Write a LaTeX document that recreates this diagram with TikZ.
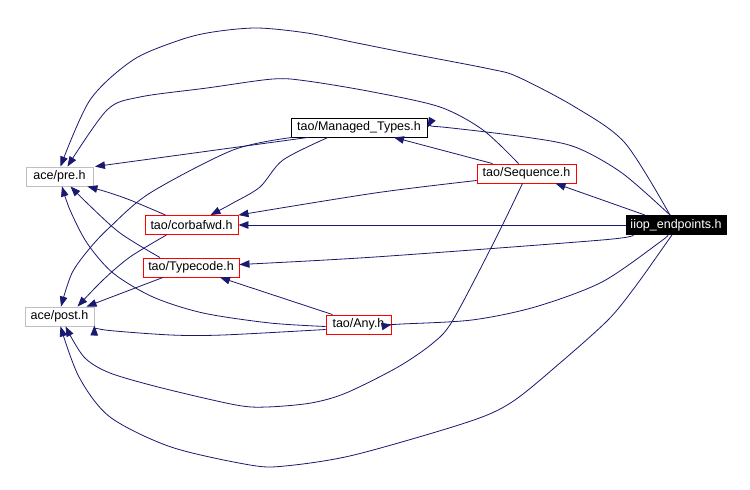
\documentclass[tikz,border=0pt]{standalone}
\usepackage{fontspec}
\setmainfont{Liberation Sans}
\usetikzlibrary{arrows.meta}
\definecolor{edgec}{HTML}{191970}
\definecolor{grayb}{HTML}{BFBFBF}
\definecolor{redb}{HTML}{FF0000}
\begin{document}
\begin{tikzpicture}[x=1bp,y=-1bp,
  every node/.style={font=\fontsize{12.5bp}{15bp}\selectfont},
  basebox/.style={draw, line width=0.9bp, minimum height=19bp, inner sep=0pt, fill=white},
  graybox/.style={basebox, draw=grayb},
  blackbox/.style={basebox, draw=black},
  redbox/.style={basebox, draw=redb},
  mainbox/.style={basebox, draw=black, fill=black, text=white},
  conn/.style={draw=edgec, line width=0.8bp, -{Triangle[length=10bp,width=7.5bp]}}
]
\useasboundingbox[fill=white] (0,0) rectangle (750,490);

\node[graybox, minimum width=67bp] (pre) at (59.5,176.5) {ace/pre.h};
\node[graybox, minimum width=69bp] (post) at (59.5,316.5) {ace/post.h};
\node[blackbox, minimum width=136bp] (man) at (359,127.5) {tao/Managed\_Types.h};
\node[redbox, minimum width=99bp] (seq) at (526.5,173.5) {tao/Sequence.h};
\node[mainbox, minimum width=100bp] (iiop) at (676,225) {iiop\_endpoints.h};
\node[redbox, minimum width=93bp] (corba) at (191.5,225) {tao/corbafwd.h};
\node[redbox, minimum width=96bp] (tc) at (191,267.5) {tao/Typecode.h};
\node[redbox, minimum width=65bp] (any) at (358.5,324.5) {tao/Any.h};

% iiop_endpoints.h
\draw[conn] plot[smooth] coordinates {([xshift=-6bp]iiop.north) (625,143) (575,107) (518,77) (490,69) (407,53) (357,43) (307,33) (257,28) (213,32) (180,40) (133,60) (90,100) ([xshift=1bp]pre.north)};
\draw[conn] plot[smooth] coordinates {([xshift=-6bp]iiop.north) (622,173) (575,147) (525,137) (442,127) (man.east)};
\draw[conn] ([xshift=-31bp]iiop.north) -- ([xshift=29bp]seq.south);
\draw[conn] (iiop.west) -- (corba.east);
\draw[conn] plot[smooth] coordinates {([xshift=-43bp]iiop.south) (602,240) (375,257) ([yshift=3bp]tc.east)};
\draw[conn] plot[smooth] coordinates {([xshift=-8bp]iiop.south) (660,242) (602,282) (535,307) (472,320) (402,324) (any.east)};
\draw[conn] plot[smooth] coordinates {([xshift=-4bp]iiop.south) (667,242) (635,287) (608,320) (560,363) (512,402) (468,422) (354,455) (285,466) (250,465) (171,447) (110,417) (79,377) ([xshift=1bp]post.south)};

% tao/Managed_Types.h
\draw[conn] ([xshift=-51bp]man.south) -- ([xshift=1.5bp]pre.north east);
\draw[conn] plot[smooth] coordinates {([xshift=-31bp]man.south) (283,160) (260,187) (233,203) ([xshift=19bp]corba.north)};
\draw[conn] plot[smooth] coordinates {([xshift=-67bp]man.south) (233,150) (150,193) (110,227) (90,248) (72,273) ([xshift=1.5bp]post.north)};

% tao/Sequence.h
\draw[conn] plot[smooth] coordinates {([xshift=-8bp]seq.north) (483,130) (440,107) (373,92) (307,81) (273,79) (207,88) (140,97) (107,110) ([xshift=8bp]pre.north)};
\draw[conn] ([xshift=-34bp]seq.north) -- ([xshift=35bp]man.south);
\draw[conn] plot[smooth] coordinates {([yshift=-7bp]seq.west) (375,193) (corba.north east)};
\draw[conn] plot[smooth] coordinates {([xshift=-4bp]seq.south) (495,240) (453,320) (433,343) (398,367) (346,393) (311,403) (267,407) (236,405) (162,388) (110,373) (84,357) ([xshift=6bp]post.south)};

% tao/corbafwd.h
\draw[conn] plot[smooth] coordinates {([xshift=-26bp]corba.north) (130,200) (107,192) ([xshift=-6bp]pre.south east)};
\draw[conn] plot[smooth] coordinates {([xshift=-25bp]corba.south) (130,257) (103,280) ([xshift=18bp]post.north)};

% tao/Typecode.h
\draw[conn] plot[smooth] coordinates {([xshift=-31bp]tc.north) (120,233) (87,203) ([xshift=11bp]pre.south)};
\draw[conn] plot[smooth] coordinates {([xshift=-28bp]tc.south) (130,290) ([xshift=27bp]post.north)};

% tao/Any.h
\draw[conn] plot[smooth] coordinates {([yshift=-2bp]any.west) (270,323) (203,313) (153,297) (113,273) (87,243) (70,210) ([xshift=2.5bp]pre.south)};
\draw[conn] plot[smooth] coordinates {([yshift=-5bp]any.west) (223,335) (171,335) (105,330) ([yshift=-9bp]post.east)};
\draw[conn] ([xshift=-26bp]any.north) -- ([xshift=29bp]tc.south);
\end{tikzpicture}
\end{document}
